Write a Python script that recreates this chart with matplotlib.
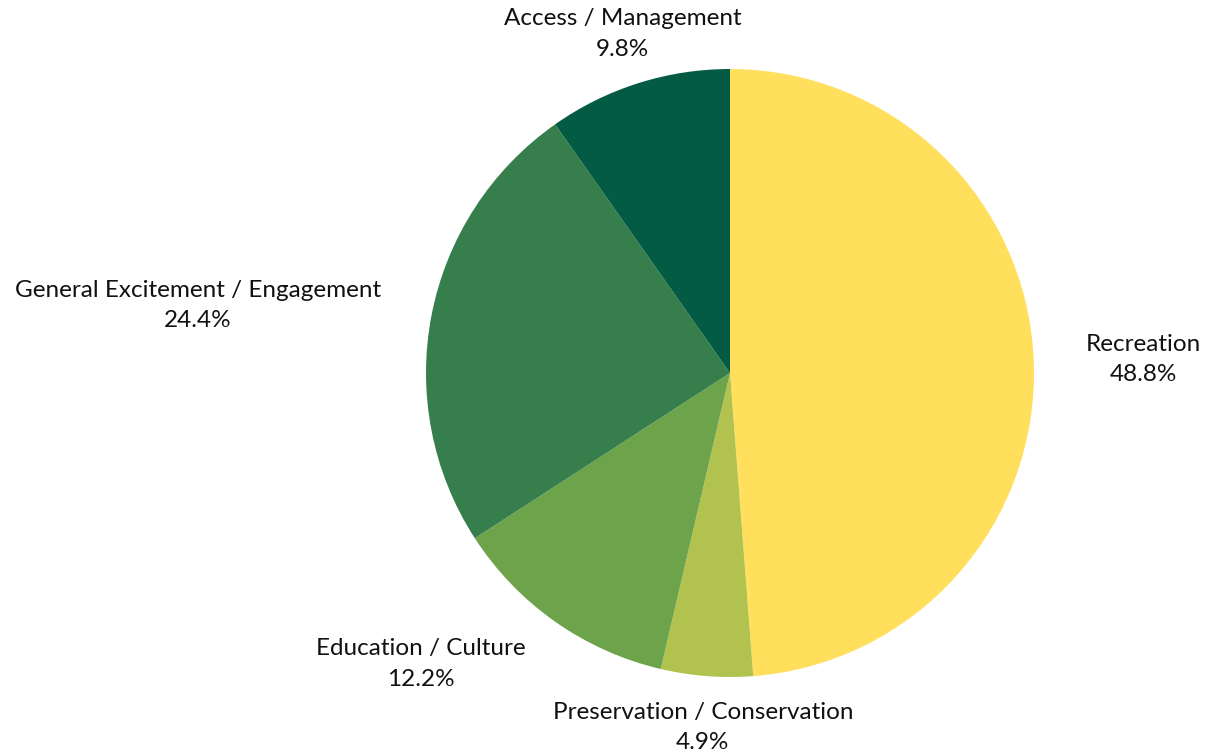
import numpy as np
import matplotlib.pyplot as plt

labels = ["Recreation", "Preservation / Conservation", "Education / Culture",
          "General Excitement / Engagement", "Access / Management"]
counts = [20, 2, 5, 10, 4]
colors = ["#FFDF5B", "#B1C24F", "#6DA34B", "#367E4C", "#035B43"]

W, H = 1209, 756
cx, cy, R = 730, 373, 304

fig = plt.figure(figsize=(W / 100, H / 100), dpi=100)
ax = fig.add_axes([0, 0, 1, 1])

total = sum(counts)
wedges, texts = ax.pie(counts, colors=colors, startangle=90, counterclock=False,
                       labels=[f"{l}\n{c / total * 100:.1f}%" for l, c in zip(labels, counts)],
                       labeldistance=1.17,
                       textprops=dict(fontsize=17.5, family="Lato", color="#111111",
                                      linespacing=1.55))
for t in texts:
    x, y = t.get_position()
    if abs(x) < 0.4:
        t.set_horizontalalignment("center")
    elif x > 0:
        t.set_horizontalalignment("left")
    else:
        t.set_horizontalalignment("right")
    t.set_verticalalignment("center")
    t.set_multialignment("center")

ax.set_aspect("auto")
ax.set_xlim(-cx / R, (W - cx) / R)
ax.set_ylim(-(H - cy) / R, cy / R)
ax.axis("off")

fig.savefig("out.png", dpi=100, facecolor="white")
